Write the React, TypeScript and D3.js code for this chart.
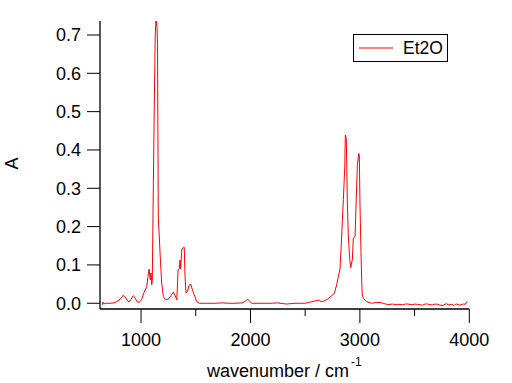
import React from "react";
import * as d3 from "d3";

const wavenumber = [
  646, 652, 662, 671, 716, 753, 771, 799, 817, 838, 853, 872, 890, 908, 929, 945, 966, 986,
  1006, 1027, 1052, 1064, 1073, 1085, 1091, 1098, 1103, 1109, 1121, 1130, 1137, 1146, 1151,
  1153, 1158, 1167, 1176, 1189, 1204, 1225, 1249, 1274, 1295, 1311, 1327, 1333, 1338, 1350,
  1356, 1362, 1372, 1379, 1387, 1395, 1402, 1411, 1423, 1441, 1454, 1472, 1487, 1509, 1533,
  1600, 1677, 1740, 1800, 1859, 1923, 1950, 1975, 1991, 2011, 2070, 2133, 2200, 2252, 2300,
  2332, 2370, 2407, 2450, 2499, 2530, 2560, 2591, 2621, 2645, 2666, 2700, 2727, 2767, 2788,
  2803, 2819, 2834, 2849, 2862, 2867, 2876, 2885, 2894, 2907, 2916, 2931, 2940, 2956, 2965,
  2977, 2990, 2995, 3001, 3010, 3017, 3022, 3031, 3062, 3108, 3148, 3184, 3212, 3245, 3276,
  3300, 3321, 3345, 3367, 3390, 3413, 3436, 3458, 3480, 3504, 3527, 3550, 3573, 3596, 3618,
  3641, 3664, 3687, 3710, 3733, 3755, 3778, 3792, 3806, 3824, 3842, 3856, 3870, 3884, 3897,
  3915, 3934, 3948, 3961, 3980, 4000,
];

const absorbance = [
  -0.004, 0.003, -0.002, 0.0, 0.0, 0.001, 0.003, 0.008, 0.013, 0.021, 0.017, 0.008, 0.003, 0.01,
  0.02, 0.014, 0.003, 0.003, 0.01, 0.028, 0.043, 0.07, 0.089, 0.061, 0.079, 0.048, 0.06, 0.222,
  0.517, 0.7, 0.745, 0.72, 0.676, 0.517, 0.222, 0.173, 0.118, 0.053, 0.017, 0.009, 0.011, 0.02,
  0.029, 0.02, 0.009, 0.05, 0.087, 0.091, 0.113, 0.09, 0.139, 0.144, 0.146, 0.146, 0.07, 0.027,
  0.03, 0.048, 0.05, 0.033, 0.022, 0.004, 0.0, 0.0, 0.0, 0.001, 0.0, 0.0, 0.001, 0.005, 0.011,
  0.006, 0.0, 0.0, 0.0, 0.0, 0.001, -0.001, -0.002, -0.001, 0.0, 0.0, 0.0, 0.002, 0.004, 0.006,
  0.008, 0.005, 0.005, 0.01, 0.016, 0.026, 0.048, 0.069, 0.091, 0.178, 0.27, 0.356, 0.439, 0.43,
  0.27, 0.178, 0.117, 0.093, 0.113, 0.17, 0.174, 0.256, 0.361, 0.391, 0.385, 0.256, 0.135, 0.054,
  0.022, 0.013, 0.004, 0.0, 0.002, 0.002, 0.0, -0.003, -0.003, -0.002, -0.004, -0.003, -0.003,
  -0.004, -0.002, -0.002, -0.003, -0.004, -0.002, -0.003, -0.004, -0.005, -0.002, -0.002, -0.004,
  -0.004, -0.002, -0.003, -0.005, -0.006, -0.003, -0.001, -0.004, -0.004, -0.002, -0.007, -0.003,
  -0.002, -0.004, -0.005, -0.003, -0.002, -0.003, 0.005,
];

const xTicks = [1000, 2000, 3000, 4000];
const xMinorTicks = [1500, 2500, 3500];
const yTicks = [0.0, 0.1, 0.2, 0.3, 0.4, 0.5, 0.6, 0.7];
const seriesName = "Et2O";

export default function App() {
  const W = 512;
  const H = 383;
  const left = 100;
  const right = 469.3;
  const top = 21;
  const bottom = 309;

  const x = d3.scaleLinear().domain([625, 4000]).range([left, right]);
  const y = d3.scaleLinear().domain([-0.015, 0.7365]).range([bottom, top]);

  const pts = wavenumber.map((w, i) => [w, absorbance[i]] as [number, number]);
  const line = d3
    .line<[number, number]>()
    .x((d) => x(d[0]))
    .y((d) => y(d[1]));

  const font = "'Liberation Sans', Arial, Helvetica, sans-serif";

  return (
    <svg
      width={W}
      height={H}
      style={{ position: "absolute", left: 0, top: 0, background: "#fff" }}
      fontFamily={font}
    >
      <defs>
        <clipPath id="plotclip">
          <rect x={left} y={top} width={right - left} height={bottom - top} />
        </clipPath>
      </defs>
      <rect x={0} y={0} width={W} height={H} fill="#fff" />
      <path
        d={line(pts) || ""}
        fill="none"
        stroke="#ff0000"
        strokeWidth={1}
        clipPath="url(#plotclip)"
      />
      {/* axes */}
      <line x1={left} x2={left} y1={top} y2={bottom} stroke="#000" strokeWidth={1.3} />
      <line x1={left} x2={right} y1={bottom} y2={bottom} stroke="#000" strokeWidth={1.3} />
      {yTicks.map((t) => (
        <g key={"y" + t}>
          <line x1={left - 13} x2={left} y1={y(t)} y2={y(t)} stroke="#000" strokeWidth={1} />
          <text x={left - 19} y={y(t) + 6.5} textAnchor="end" fontSize={18} fill="#000">
            {t.toFixed(1)}
          </text>
        </g>
      ))}
      {xTicks.map((t) => (
        <g key={"x" + t}>
          <line x1={x(t)} x2={x(t)} y1={bottom} y2={bottom + 14} stroke="#000" strokeWidth={1} />
          <text x={x(t)} y={346} textAnchor="middle" fontSize={18} fill="#000">
            {t}
          </text>
        </g>
      ))}
      {xMinorTicks.map((t) => (
        <line key={"m" + t} x1={x(t)} x2={x(t)} y1={bottom} y2={bottom + 7} stroke="#000" strokeWidth={1} />
      ))}
      {/* axis labels */}
      <text x={207} y={376.5} fontSize={18} fill="#000">
        wavenumber / cm
      </text>
      <text x={351} y={366} fontSize={12} fill="#000">
        -1
      </text>
      <text
        transform={`translate(18, 163.5) rotate(-90)`}
        textAnchor="middle"
        fontSize={18}
        fill="#000"
      >
        A
      </text>
      {/* legend */}
      <rect x={353.5} y={34.5} width={94} height={27} fill="#fff" stroke="#000" strokeWidth={1} />
      <line x1={359} x2={393} y1={48} y2={48} stroke="#ff0000" strokeWidth={1} />
      <text x={403} y={54} fontSize={17.5} fill="#000">
        {seriesName}
      </text>
    </svg>
  );
}
